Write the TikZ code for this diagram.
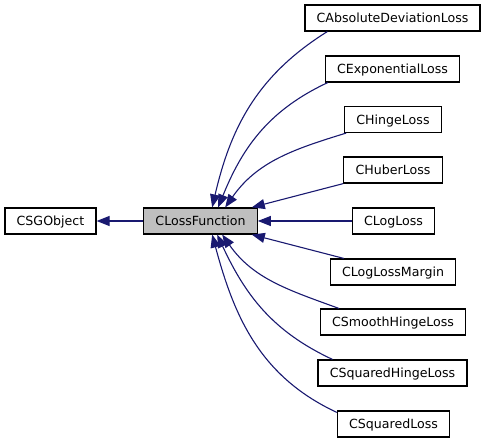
\documentclass[tikz,border=0pt]{standalone}
\usepackage{fontspec}
\setmainfont{DejaVu Sans}
\usetikzlibrary{arrows.meta}
\definecolor{edgeblue}{HTML}{191970}
\definecolor{basegray}{HTML}{BFBFBF}
\tikzset{
  cls/.style={draw=black, line width=1.2pt, inner xsep=11.7pt, inner ysep=0pt,
    minimum height=26pt, text height=11pt, text depth=1.8pt,
    font=\fontsize{12.6}{15}\selectfont},
  inherit/.style={edgeblue, line width=1.1pt, -{Triangle[length=13pt,width=10pt]}}
}
\begin{document}
\begin{tikzpicture}[x=1pt, y=1pt]
  \useasboundingbox (0, 0) rectangle (487, 443);
  \node[cls] (sgo) at (50.5, 222) {CSGObject};
  \node[cls, fill=basegray] (lf) at (200.5, 222) {CLossFunction};
  % derived classes
  \node[cls] (abs) at (392.5, 425) {CAbsoluteDeviationLoss};
  \node[cls] (exp) at (392.5, 374) {CExponentialLoss};
  \node[cls] (hinge) at (393, 323.5) {CHingeLoss};
  \node[cls] (huber) at (393, 273) {CHuberLoss};
  \node[cls] (log) at (393.5, 222) {CLogLoss};
  \node[cls] (margin) at (393, 171) {CLogLossMargin};
  \node[cls] (smooth) at (393, 121) {CSmoothHingeLoss};
  \node[cls] (sqhinge) at (392.5, 70) {CSquaredHingeLoss};
  \node[cls] (sq) at (393.5, 19) {CSquaredLoss};
  % inheritance
  \draw[inherit] (lf) -- (sgo);
  \draw[inherit] ([xshift=23pt]abs.south west) to[out=212, in=77]
                 ([xshift=69pt]lf.north west);
  \draw[inherit] ([xshift=3pt]exp.south west) to[out=205, in=68]
                 ([xshift=75pt]lf.north west);
  \draw[inherit] ([xshift=2pt]hinge.south west) to[out=197, in=55]
                 ([xshift=82pt]lf.north west);
  \draw[inherit] (huber.south west) -- ([xshift=-6pt]lf.north east);
  \draw[inherit] (log) -- (lf);
  \draw[inherit] ([xshift=14pt]margin.north west) -- ([xshift=-6pt]lf.south east);
  \draw[inherit] ([xshift=19pt]smooth.north west) to[out=160, in=-55]
                 ([xshift=79pt]lf.south west);
  \draw[inherit] ([xshift=15pt]sqhinge.north west) to[out=155, in=-65]
                 ([xshift=74pt]lf.south west);
  \draw[inherit] ([yshift=-2pt]sq.north west) to[out=155, in=-75]
                 ([xshift=69pt]lf.south west);
\end{tikzpicture}
\end{document}
